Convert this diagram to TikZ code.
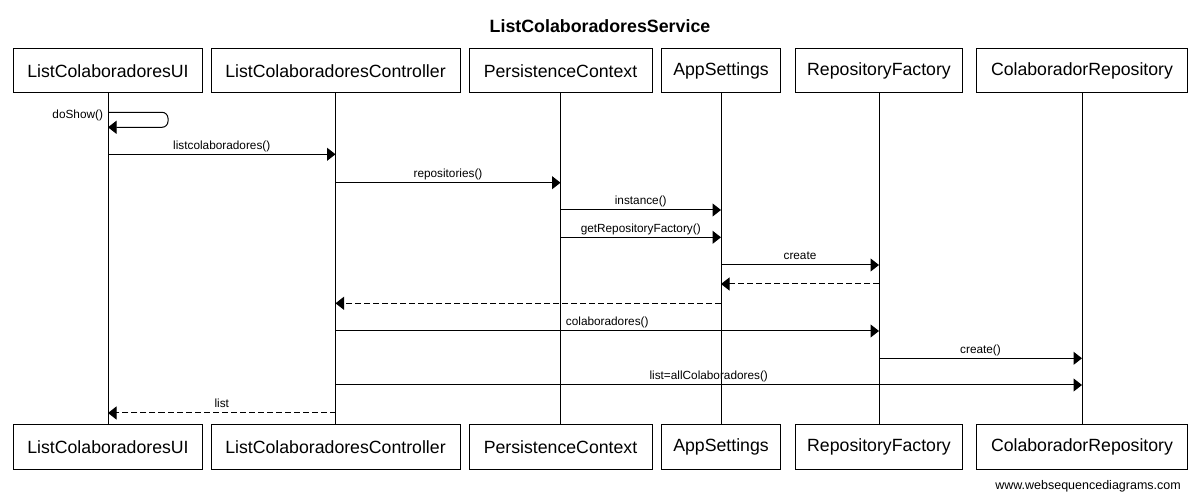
\documentclass[tikz,border=0pt]{standalone}
\usepackage{fontspec}
\setmainfont{Liberation Sans}
\usetikzlibrary{arrows.meta}
\begin{document}
\begin{tikzpicture}[x=1bp,y=-1bp,
  actor/.style={draw=black, line width=1bp, minimum height=44bp, inner sep=0pt,
    font=\fontsize{17.7bp}{20bp}\selectfont},
  life/.style={line width=1bp},
  msg/.style={line width=1bp, -{Triangle[length=8.5bp,width=13bp]}},
  ret/.style={msg, dash pattern=on 6bp off 3bp},
  lbl/.style={font=\fontsize{11.8bp}{13bp}\selectfont, inner sep=0pt, anchor=base, yshift=5bp}]
\useasboundingbox (0,0) rectangle (1200,499);
\node[font=\bfseries\fontsize{17.8bp}{20bp}\selectfont] (title) at (600,26) {ListColaboradoresService};
% top boxes
\node[actor, minimum width=188bp]   (t1) at (108,71)   {ListColaboradoresUI};
\node[actor, minimum width=249bp]   (t2) at (335.5,71) {ListColaboradoresController};
\node[actor, minimum width=183bp]   (t3) at (560.5,71) {PersistenceContext};
\node[actor, minimum width=118.5bp] (t4) at (721,71)   {AppSettings};
\node[actor, minimum width=167bp]   (t5) at (879,71)   {RepositoryFactory};
\node[actor, minimum width=210.5bp] (t6) at (1082,71)  {ColaboradorRepository};
% bottom boxes
\node[actor, minimum width=188bp]   (b1) at (108,447)   {ListColaboradoresUI};
\node[actor, minimum width=249bp]   (b2) at (335.5,447) {ListColaboradoresController};
\node[actor, minimum width=183bp]   (b3) at (560.5,447) {PersistenceContext};
\node[actor, minimum width=118.5bp] (b4) at (721,447)   {AppSettings};
\node[actor, minimum width=167bp]   (b5) at (879,447)   {RepositoryFactory};
\node[actor, minimum width=210.5bp] (b6) at (1082,447)  {ColaboradorRepository};
% lifelines
\foreach \i in {1,...,6} \draw[life] (t\i) -- (b\i);
% messages
\draw[msg, rounded corners=6bp] (t1 |- 0,112.3)
  node[lbl, anchor=base east, xshift=-4.5bp, yshift=-11bp]{doShow()}
  -- (168,112.3) -- (168,127.3) -- (t1 |- 0,127.3);
\draw[msg] (t1 |- 0,154.3) -- node[lbl]{listcolaboradores()} (t2 |- 0,154.3);
\draw[msg] (t2 |- 0,182.7) -- node[lbl]{repositories()} (t3 |- 0,182.7);
\draw[msg] (t3 |- 0,210) -- node[lbl]{instance()} (t4 |- 0,210);
\draw[msg] (t3 |- 0,237.3) -- node[lbl]{getRepositoryFactory()} (t4 |- 0,237.3);
\draw[msg] (t4 |- 0,265) -- node[lbl]{create} (t5 |- 0,265);
\draw[ret] (t5 |- 0,284) -- (t4 |- 0,284);
\draw[ret] (t4 |- 0,303.3) -- (t2 |- 0,303.3);
\draw[msg] (t2 |- 0,331) -- node[lbl]{colaboradores()} (t5 |- 0,331);
\draw[msg] (t5 |- 0,358.3) -- node[lbl]{create()} (t6 |- 0,358.3);
\draw[msg] (t2 |- 0,385) -- node[lbl]{list=allColaboradores()} (t6 |- 0,385);
\draw[ret] (t2 |- 0,413) -- node[lbl]{list} (t1 |- 0,413);
\node[font=\fontsize{12.5bp}{14bp}\selectfont, anchor=east, inner sep=0pt] (web) at (1181,486) {www.websequencediagrams.com};
\end{tikzpicture}
\end{document}
